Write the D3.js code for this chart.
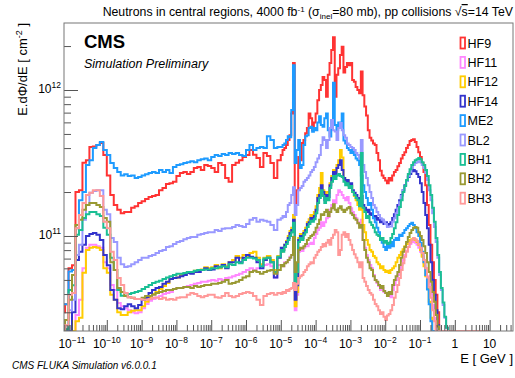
<!DOCTYPE html>
<html>
<head>
<meta charset="utf-8">
<script src="https://cdn.jsdelivr.net/npm/d3@7"></script>
<style>
  body { margin: 0; background: #fff; }
  svg { display: block; font-family: "Liberation Sans", Arial, Helvetica, sans-serif; }
</style>
</head>
<body>
<svg id="chart" width="515" height="378"></svg>
<script>
// E.dPhi/dE per bin, in units of 1e10 cm^-2
// "Lo" arrays: 10 bins/decade, 10^-11.3 .. 10^-5 GeV (63 bins)
// "Hi" arrays: 20 bins/decade, 10^-5 .. 10^-0.1 GeV (98 bins), then empty up to 10 GeV
var names  = ["HF9", "HF11", "HF12", "HF14", "ME2", "BL2", "BH1", "BH2", "BH3"];
var colors = ["#ff3333", "#ff88ff", "#ffcc00", "#3333cc", "#1e9bff", "#9999ff", "#1abf94", "#999933", "#ff9999"];

var hf9Lo = [3.0, 3.4, 6.0, 6.3, 20, 20.6, 31.7, 33, 40.7, 41,
  42, 43.3, 35.8, 26, 19.1, 16.3, 15.1, 14.3, 14.6, 14.6,
  15.6, 16.0, 16.8, 17.3, 17.9, 18.5, 18.8, 19.1, 20.6, 21.3,
  22.7, 23.0, 23.5, 25.8, 27, 27.4, 26.6, 27.4, 29.2, 29.7,
  28.3, 30.6, 30.1, 29.2, 27.4, 31.6, 30.6, 25.0, 23.5, 30.6,
  31.8, 33, 34.7, 35.8, 38.8, 36, 34.2, 29.7, 37, 35.3,
  31.6, 25, 33];
var hf9Hi = [35.8, 38.8, 40, 42, 45.4, 49, 69, 153, 16.8, 20.6,
  34.7, 33, 43.3, 45.4, 50.5, 55, 69, 64, 53, 60,
  69, 85, 100, 108, 123, 117, 90, 127, 153, 188,
  230, 90, 127, 141, 174, 198, 132, 144, 153, 148,
  153, 117, 114, 105, 100, 95, 134, 92, 77, 67,
  53, 47, 45, 43, 42, 37, 33, 28, 26, 25,
  24, 23, 25, 24, 26, 27.4, 28.3, 30, 31.6, 34,
  35.8, 37.5, 40, 42, 44.7, 45.4, 46, 44, 40.7, 37.5,
  34.7, 31.6, 27.4, 22.3, 16.3, 11.9, 8.7, 6.6, 5.0, 3.95,
  3.0, 0, 0, 0, 0, 0, 0, 0];

var hf11Lo = [0, 0, 0, 0, 2.87, 3.65, 6.0, 8.3, 8.7, 8.7,
  8.5, 8.3, 6.6, 6.0, 4.62, 4.27, 3.48, 3.3, 3.2, 3.1,
  3.0, 2.95, 3.0, 3.2, 3.42, 3.6, 3.7, 3.8, 3.88, 4.0,
  4.07, 4.13, 4.33, 4.4, 4.4, 4.47, 4.55, 4.62, 4.7, 4.77,
  4.85, 4.85, 4.93, 5.0, 4.93, 5.07, 5.0, 5.15, 5.2, 5.3,
  5.41, 5.5, 5.67, 5.85, 6.0, 5.85, 6.0, 6.2, 6.33, 6.4,
  6.2, 5.2, 6.33];
var hf11Hi = [6.33, 6.2, 6.6, 6.6, 6.85, 7.2, 7.4, 8.0, 3.1, 3.95,
  7.8, 8.0, 7.9, 8.3, 8.5, 8.5, 8.8, 9.0, 8.8, 9.7,
  10.3, 11.0, 11.4, 12.4, 11.7, 12.4, 13.2, 13.5, 15.1, 16.3,
  17.6, 16.8, 19.1, 20.6, 20, 19.1, 18.2, 17.6, 18.5, 16.8,
  15.5, 14.6, 13.9, 13.2, 12.4, 11.9, 12.9, 9.4, 8.3, 7.4,
  6.85, 6.33, 6.0, 5.4, 5.0, 4.77, 4.55, 4.27, 4.4, 4.13,
  4.07, 3.88, 3.95, 3.8, 4.27, 4.62, 5.0, 5.4, 5.85, 6.33,
  6.85, 7.4, 7.9, 8.4, 8.8, 9.1, 9.1, 9.0, 8.7, 8.3,
  7.8, 7.3, 6.6, 6.0, 5.3, 4.7, 4.0, 3.37, 2.75, 0,
  0, 0, 0, 0, 0, 0, 0, 0];

var hf12Lo = [0, 0, 0, 0, 2.6, 2.75, 5.6, 8.0, 8.3, 8.4,
  8.3, 8.0, 6.0, 5.6, 3.95, 3.65, 3.0, 2.87, 2.87, 3.0,
  3.07, 3.1, 3.1, 3.3, 3.55, 3.8, 4.0, 4.13, 4.33, 4.55,
  4.77, 5.07, 5.15, 5.2, 5.41, 5.5, 5.67, 5.57, 5.77, 5.85,
  5.9, 6.1, 6.0, 6.1, 6.33, 6.0, 6.4, 6.2, 6.6, 6.85,
  7.3, 7.1, 7.4, 7.3, 7.65, 7.8, 7.1, 6.4, 7.1, 7.3,
  6.85, 5.85, 7.3];
var hf12Hi = [7.8, 8.0, 8.7, 9.25, 10, 10.8, 11.4, 13.9, 3.3, 4.13,
  9.7, 10.3, 10, 10.8, 11.4, 12.4, 13, 13.9, 13.7, 14.6,
  16, 19.1, 21.3, 27, 20.6, 18.8, 20, 19.8, 23, 25.8,
  28.3, 27.4, 30.6, 33, 38.8, 34.5, 25, 23.5, 23.8, 22,
  22.3, 20, 18.8, 17.6, 16.3, 15.1, 16.3, 11.9, 10.6, 9.4,
  8.7, 8.0, 7.8, 7.3, 7.1, 6.6, 6.4, 6.0, 6.2, 5.85,
  5.67, 5.77, 5.57, 5.85, 6.0, 6.2, 6.6, 7.1, 7.4, 7.8,
  8.1, 8.5, 8.8, 9.1, 9.4, 9.5, 9.5, 9.4, 9.1, 8.7,
  8.0, 7.2, 6.2, 5.3, 4.4, 3.55, 2.75, 0, 0, 0,
  0, 0, 0, 0, 0, 0, 0, 0];

var hf14Lo = [0, 0, 0, 3.0, 6.85, 7.8, 8.7, 10, 10.3, 10.5,
  10.2, 9.4, 7.4, 6.3, 4.27, 3.65, 3.2, 3.15, 3.3, 3.4,
  3.3, 3.2, 3.37, 3.65, 3.77, 4.07, 4.27, 4.4, 4.47, 4.7,
  4.85, 5.07, 5.15, 5.2, 5.3, 5.41, 5.57, 5.5, 5.67, 5.67,
  5.85, 6.0, 5.85, 5.9, 6.2, 6.1, 6.33, 6.0, 6.6, 6.6,
  7.1, 6.6, 7.1, 7.4, 7.2, 7.1, 6.6, 6.0, 6.85, 7.1,
  6.6, 5.2, 7.1];
var hf14Hi = [8.3, 8.0, 8.7, 9.1, 9.7, 10.5, 11.0, 12.9, 3.65, 4.6,
  9.4, 10, 9.7, 10.5, 11, 12.1, 12.4, 13.3, 12.9, 13.7,
  15.1, 18.2, 19.1, 22.3, 20, 17.6, 19.1, 18.5, 22.3, 25,
  27.4, 26, 29.2, 30.6, 33, 28.3, 25, 23.5, 24.2, 22.3,
  23, 20.6, 19.8, 19.1, 18.2, 16.8, 18.8, 16.3, 15.6, 14.6,
  15.1, 13.9, 14.3, 13.3, 13.7, 12.9, 13.3, 12.4, 12.9, 12.1,
  12.4, 11.7, 12.1, 12.4, 13.3, 14.1, 15.1, 16.3, 17.6, 19.1,
  20.6, 22.3, 23.8, 25.4, 26.6, 27.8, 28.3, 27.8, 26.6, 25.4,
  23, 20, 16.8, 13.9, 11.3, 8.7, 6.6, 5.0, 3.95, 3.1,
  2.45, 0, 0, 0, 0, 0, 0, 0];

var me2Lo = [3.4, 3.4, 5.7, 5.85, 11.3, 17.6, 20, 30.6, 33, 40,
  42, 44, 38.8, 35.8, 31.6, 29.2, 27.4, 26, 26.5, 25.8,
  26, 25, 25.4, 26, 26.5, 27, 27.4, 27, 28.3, 27.4,
  28.3, 27, 29.7, 30.6, 31, 31.6, 32, 32.5, 32, 33,
  33.6, 34, 33, 34.7, 35.8, 35.3, 36.4, 35.8, 37, 36.4,
  37, 35.8, 35.3, 38.8, 42, 38.8, 40, 40.7, 40, 48.3,
  45.4, 40, 40.7];
var me2Hi = [40.7, 42, 43, 45.4, 48.3, 47.5, 73, 148, 31.6, 38.8,
  45.4, 29.2, 30.6, 42, 48.3, 49, 55, 56, 51.8, 55,
  53, 60, 66, 57.5, 56, 64, 69, 53, 48, 62,
  112, 57.5, 53, 60, 56, 69, 45, 43, 40, 38.8,
  37, 38.8, 35.8, 34, 33, 30.6, 26, 22.3, 20, 18.2,
  16.3, 16.8, 15.1, 13.2, 12.4, 11.4, 10.6, 9.7, 9.0, 8.4,
  8.0, 8.7, 8.3, 9.1, 8.5, 9.4, 9.7, 9.4, 10.2, 10.0,
  10.5, 11.0, 11.3, 11.7, 12.1, 12.3, 11.9, 11.3, 10.6, 10,
  9.0, 7.8, 6.6, 5.4, 4.3, 3.4, 2.6, 0, 0, 0,
  0, 0, 0, 0, 0, 0, 0, 0];

var bl2Lo = [0, 2.3, 3.1, 3.65, 7.4, 8.7, 12.9, 16.3, 19.8, 20.3,
  20.6, 20.6, 15.1, 14.1, 9.7, 9.1, 7.1, 6.4, 6.13, 6.2,
  6.4, 6.6, 6.85, 7.1, 7.1, 7.3, 7.4, 7.65, 7.9, 8.0,
  8.4, 8.5, 8.8, 9.1, 9.25, 9.5, 9.7, 9.85, 9.85, 10.2,
  10.3, 10.5, 10.6, 10.6, 11.0, 10.8, 11.2, 11.3, 11.3, 11.5,
  11.9, 11.7, 11.5, 12.1, 12.9, 13.3, 12.5, 12.9, 12.7, 12.5,
  11.9, 11.0, 12.9];
var bl2Hi = [13.2, 13.7, 13.5, 14.6, 16.3, 16.8, 19.1, 21.6, 13.9, 16.3,
  20.6, 21.3, 22, 23.5, 24.2, 25, 26, 27.4, 28.3, 29.7,
  32, 34, 35.8, 42, 47.5, 45.4, 40, 45.4, 55, 62.3,
  53, 52, 45.4, 55, 59.5, 53, 49, 47, 43, 42,
  40.7, 40, 38.8, 37, 35.8, 34, 45.4, 30.6, 27.4, 25,
  22.3, 20, 18.2, 16.3, 15.6, 14.6, 13.9, 13.2, 12.9, 12.5,
  12.1, 11.5, 11.6, 11.6, 12.5, 13.2, 14.3, 15.5, 17, 18.8,
  20.6, 22, 23.8, 25.8, 27.4, 29.2, 30.6, 31.6, 32, 32.5,
  32, 30.6, 29.2, 27, 24.2, 20.6, 17.6, 14.3, 11.5, 9.1,
  7.1, 5.4, 4.27, 3.37, 2.75, 2.35, 0, 0];

var bh1Lo = [0, 2.3, 4.27, 4.6, 10.2, 11, 13.3, 14.1, 14.6, 14.6,
  14.1, 13.7, 11.4, 10.2, 7.1, 5.85, 4.27, 3.9, 3.9, 4.0,
  4.07, 4.13, 4.2, 4.33, 4.47, 4.62, 4.77, 4.85, 4.93, 5.07,
  5.2, 5.3, 5.41, 5.5, 5.5, 5.57, 5.67, 5.67, 5.77, 5.85,
  5.85, 5.9, 5.9, 6.0, 6.0, 6.1, 6.2, 6.1, 6.4, 6.33,
  6.6, 6.5, 6.85, 7.1, 7.1, 7.0, 6.85, 6.2, 7.0, 7.1,
  6.6, 5.67, 7.2];
var bh1Hi = [8.0, 7.8, 8.4, 8.8, 9.4, 10, 10.6, 12.3, 4.6, 5.67,
  9.1, 9.7, 9.4, 10.2, 10.6, 11.5, 12.1, 12.7, 12.5, 13.0,
  14.3, 16.8, 18.2, 20.6, 18.8, 16.8, 18.2, 17.6, 21.3, 23.5,
  25.8, 24.6, 26, 26.6, 25.8, 25.4, 23.5, 22.3, 23, 21.3,
  22, 20, 19.1, 18.2, 17.6, 16, 37, 15.6, 14.6, 13.3,
  13.7, 12.4, 11.9, 11.4, 10.6, 10.2, 10, 9.4, 9.7, 9.0,
  9.25, 8.8, 9.0, 9.7, 10.3, 11.3, 12.4, 13.9, 15.8, 17.6,
  20, 22, 24.2, 26.6, 28.7, 30.6, 32, 33, 33.6, 34.2,
  33.6, 32, 30.6, 28.3, 25.8, 22.3, 19.1, 15.6, 12.5, 9.7,
  7.4, 5.67, 4.4, 3.5, 2.8, 2.35, 0, 0];

var bh2Lo = [0, 2.66, 3.65, 5.41, 11.9, 12.9, 15.1, 16.3, 16.8, 16.8,
  16.3, 15.8, 13.3, 12.5, 6.6, 5.85, 4.4, 4.13, 3.88, 3.8,
  3.77, 3.7, 3.7, 3.77, 3.88, 3.88, 3.95, 4.07, 4.13, 4.2,
  4.27, 4.27, 4.33, 4.4, 4.4, 4.47, 4.47, 4.4, 4.55, 4.47,
  4.55, 4.62, 4.62, 4.7, 4.7, 4.77, 4.85, 5.0, 4.7, 4.77,
  4.85, 5.0, 5.2, 5.3, 5.67, 5.77, 5.67, 5.5, 5.67, 5.77,
  5.85, 5.5, 5.85];
var bh2Hi = [6.33, 6.2, 6.5, 6.6, 6.85, 7.1, 7.4, 9.85, 5.67, 6.6,
  8.0, 8.3, 8.2, 8.5, 8.8, 9.4, 9.7, 10, 10.2, 10.6,
  11.4, 12.1, 12.9, 14.1, 13.9, 14.6, 15.1, 13.7, 14.6, 15.5,
  16.5, 15.1, 14.6, 15.5, 16, 15.1, 14.6, 15.1, 15.5, 15.8,
  14.3, 13.9, 13.2, 12.9, 12.2, 11.4, 11.9, 9.4, 8.0, 7.1,
  6.6, 6.0, 5.85, 5.3, 5.0, 4.85, 4.62, 4.4, 4.55, 4.2,
  4.07, 3.88, 4.13, 4.0, 4.62, 5.0, 5.3, 5.67, 6.33, 7.1,
  7.8, 8.4, 9.1, 9.85, 10.5, 11, 11.4, 11.5, 11.4, 10.6,
  10, 9.4, 8.5, 7.65, 6.6, 5.67, 4.85, 4.13, 3.55, 2.87,
  2.4, 0, 0, 0, 0, 0, 0, 0];

var bh3Lo = [2.3, 2.45, 3.95, 4.07, 11.3, 13.9, 16.8, 19.1, 19.8, 20.6,
  20.6, 18.8, 12.5, 11.3, 7.8, 6.85, 5.15, 4.62, 4.07, 3.8,
  3.77, 3.7, 3.7, 3.65, 3.65, 3.7, 3.77, 3.77, 3.7, 3.77,
  3.65, 3.7, 3.65, 3.77, 3.8, 3.8, 3.95, 4.07, 4.0, 3.88,
  3.8, 3.88, 3.95, 3.95, 3.8, 3.77, 3.88, 4.07, 3.88, 3.8,
  3.88, 4.0, 4.07, 4.13, 4.07, 3.88, 3.65, 3.37, 3.88, 4.0,
  4.07, 3.95, 4.07];
var bh3Hi = [4.0, 4.13, 4.07, 4.27, 4.2, 4.33, 4.4, 4.77, 4.27, 4.7,
  5.15, 5.3, 5.4, 5.67, 5.85, 6.2, 6.4, 6.6, 6.5, 7.1,
  7.4, 7.8, 8.0, 8.4, 8.8, 8.5, 9.0, 9.4, 8.7, 9.7,
  10.2, 11, 10.6, 7.4, 8.0, 10.2, 10.6, 9.85, 10.3, 9.4,
  8.7, 8.0, 7.5, 7.1, 6.6, 6.1, 6.6, 5.15, 4.85, 4.55,
  4.27, 4.07, 3.95, 3.65, 3.42, 3.3, 3.1, 2.92, 3.0, 2.8,
  2.66, 2.85, 2.92, 3.1, 3.37, 3.77, 4.13, 4.62, 5.15, 5.85,
  6.5, 7.2, 7.8, 8.4, 9.0, 9.4, 9.7, 9.5, 9.25, 8.8,
  8.3, 7.65, 6.85, 6.0, 5.2, 4.47, 3.77, 3.1, 2.6, 0,
  0, 0, 0, 0, 0, 0, 0, 0];

var seriesLo = [hf9Lo, hf11Lo, hf12Lo, hf14Lo, me2Lo, bl2Lo, bh1Lo, bh2Lo, bh3Lo];
var seriesHi = [hf9Hi, hf11Hi, hf12Hi, hf14Hi, me2Hi, bl2Hi, bh1Hi, bh2Hi, bh3Hi];

var loStart = -11.3, loStep = 0.1, hiStart = -5.0, hiStep = 0.05, tailEnd = 1.0;
var unit = 1e10;

var svg = d3.select("#chart");
var frame = {left: 64, top: 23, right: 513, bottom: 331};

var x = d3.scaleLog()
  .domain([Math.pow(10, -11.23), Math.pow(10, 1.672)])
  .range([frame.left, frame.right]);
var y = d3.scaleLog()
  .domain([Math.pow(10, 10.349), Math.pow(10, 12.459)])
  .range([frame.bottom, frame.top]);
var yc = y.copy().clamp(true);

svg.append("clipPath").attr("id", "clip")
  .append("rect")
  .attr("x", frame.left).attr("y", frame.top)
  .attr("width", frame.right - frame.left).attr("height", frame.bottom - frame.top);

// step outline of one histogram, points as [log10 E, value]
function histPoints(lo, hi) {
  var pts = [];
  lo.forEach(function(v, k) {
    var a = loStart + k * loStep;
    pts.push([a, v], [a + loStep, v]);
  });
  hi.forEach(function(v, k) {
    var a = hiStart + k * hiStep;
    pts.push([a, v], [a + hiStep, v]);
  });
  pts.push([hiStart + hi.length * hiStep, 0], [tailEnd, 0]);
  return pts;
}

var line = d3.line()
  .x(function(p) { return x(Math.pow(10, p[0])); })
  .y(function(p) { return p[1] > 0 ? yc(p[1] * unit) : frame.bottom; });

var curves = svg.append("g").attr("clip-path", "url(#clip)");
names.forEach(function(n, i) {
  curves.append("path")
    .datum(histPoints(seriesLo[i], seriesHi[i]))
    .attr("fill", "none")
    .attr("stroke", colors[i])
    .attr("stroke-width", 2)
    .attr("d", line);
});

// ticks
var xMajor = d3.range(-11, 2).map(function(k) { return Math.pow(10, k); });
var xMinor = [];
d3.range(-12, 2).forEach(function(k) {
  d3.range(2, 10).forEach(function(m) {
    var v = m * Math.pow(10, k);
    if (v > x.domain()[0] && v < x.domain()[1]) xMinor.push(v);
  });
});
var yMajor = [1e11, 1e12];
var yMinor = [];
d3.range(10, 13).forEach(function(k) {
  d3.range(2, 10).forEach(function(m) {
    var v = m * Math.pow(10, k);
    if (v > y.domain()[0] && v < y.domain()[1]) yMinor.push(v);
  });
});

function tickAxis(axis) {
  return function(g) {
    g.call(axis);
    g.select(".domain").remove();
    g.selectAll(".tick line").attr("stroke", "#555");
    g.selectAll(".tick text").remove();
  };
}
svg.append("g").attr("transform", "translate(0," + frame.bottom + ")")
  .call(tickAxis(d3.axisBottom(x).tickValues(xMinor).tickSize(-6)));
svg.append("g").attr("transform", "translate(0," + frame.bottom + ")")
  .call(tickAxis(d3.axisBottom(x).tickValues(xMajor).tickSize(-11)));
svg.append("g").attr("transform", "translate(" + frame.left + ",0)")
  .call(tickAxis(d3.axisLeft(y).tickValues(yMinor).tickSize(-7)));
svg.append("g").attr("transform", "translate(" + frame.left + ",0)")
  .call(tickAxis(d3.axisLeft(y).tickValues(yMajor).tickSize(-14)));

svg.append("rect")
  .attr("x", frame.left).attr("y", frame.top)
  .attr("width", frame.right - frame.left).attr("height", frame.bottom - frame.top)
  .attr("fill", "none").attr("stroke", "#777").attr("stroke-width", 1);

// tick labels
var xl = svg.append("g").attr("font-size", 12).attr("fill", "#000");
xMajor.forEach(function(v) {
  var k = Math.round(Math.log10(v));
  var t = xl.append("text").attr("x", x(v)).attr("y", 348).attr("text-anchor", "middle");
  if (k === 0) t.text("1");
  else if (k === 1) t.text("10");
  else {
    t.append("tspan").text("10");
    t.append("tspan").attr("dy", -5).attr("font-size", 8.5).text("\u2212" + (-k));
  }
});
var yl = svg.append("g").attr("font-size", 12).attr("fill", "#000");
yMajor.forEach(function(v) {
  var k = Math.round(Math.log10(v));
  var t = yl.append("text").attr("x", 61).attr("y", y(v) + 3).attr("text-anchor", "end");
  t.append("tspan").text("10");
  t.append("tspan").attr("dy", -5).attr("font-size", 8.5).text(k);
});

// titles
var title = svg.append("text").attr("x", 513).attr("y", 16)
  .attr("text-anchor", "end").attr("font-size", 12.3);
title.append("tspan").text("Neutrons in central regions, 4000 fb");
title.append("tspan").attr("dy", -4.5).attr("font-size", 8).text("-1");
title.append("tspan").attr("dy", 4.5).text(" (\u03c3");
title.append("tspan").attr("dy", 3).attr("font-size", 8).text("inel");
title.append("tspan").attr("dy", -3).text("=80 mb), pp collisions ");
title.append("tspan").text("\u221a");
title.append("tspan").style("text-decoration", "overline").text("s");
title.append("tspan").text("=14 TeV");

var yt = svg.append("text").attr("transform", "rotate(-90)")
  .attr("x", -frame.top).attr("y", 27)
  .attr("text-anchor", "end").attr("font-size", 13);
yt.append("tspan").text("E.d\u03a6/dE [ cm");
yt.append("tspan").attr("dy", -5).attr("font-size", 9).text("-2");
yt.append("tspan").attr("dy", 5).text(" ]");

svg.append("text").attr("x", 513).attr("y", 363)
  .attr("text-anchor", "end").attr("font-size", 13).text("E [ GeV ]");

svg.append("text").attr("x", 12).attr("y", 369)
  .attr("font-size", 10).attr("font-style", "italic").text("CMS FLUKA Simulation v6.0.0.1");

svg.append("text").attr("x", 84).attr("y", 48)
  .attr("font-size", 18.5).attr("font-weight", "bold").text("CMS");
svg.append("text").attr("x", 84).attr("y", 68)
  .attr("font-size", 12.5).attr("font-style", "italic").text("Simulation Preliminary");

// legend
var leg = svg.append("g");
names.forEach(function(n, i) {
  var cy = 43 + i * 19.4;
  leg.append("rect").attr("x", 460.5).attr("y", cy - 5.5)
    .attr("width", 4.5).attr("height", 11)
    .attr("fill", "#fff").attr("stroke", colors[i]).attr("stroke-width", 1.8);
  leg.append("text").attr("x", 467.5).attr("y", cy + 4.5)
    .attr("font-size", 12.5).text(n);
});

// sanity check on bin counts
var bad = [];
names.forEach(function(n, i) {
  if (seriesLo[i].length !== 63 || seriesHi[i].length !== 98)
    bad.push(n + ":" + seriesLo[i].length + "/" + seriesHi[i].length);
});
if (bad.length) throw new Error("bin count mismatch " + bad.join(", "));
</script>
</body>
</html>
